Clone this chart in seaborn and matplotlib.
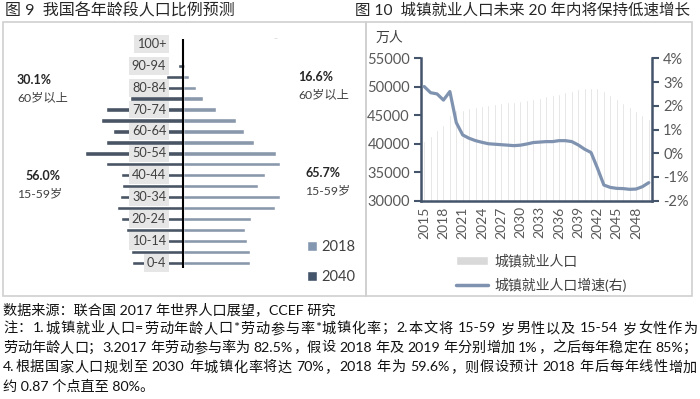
import re
import numpy as np
import pandas as pd
import matplotlib.pyplot as plt
import seaborn as sns
from matplotlib.patches import Patch, Rectangle, PathPatch
from matplotlib.path import Path
from matplotlib.lines import Line2D
from matplotlib.ticker import FuncFormatter

## data ##

ages = ['0-4', '5-9', '10-14', '15-19', '20-24', '25-29', '30-34', '35-39',
        '40-44', '45-49', '50-54', '55-59', '60-64', '65-69', '70-74',
        '75-79', '80-84', '85-89', '90-94', '95-99', '100+']
share_2018 = [6.0, 6.0, 5.7, 5.5, 6.1, 8.2, 8.6, 6.7, 7.3, 8.6, 8.3,
              6.3, 5.4, 4.7, 2.9, 1.8, 1.2, 0.5, 0.2, 0.05, 0.0]
share_2040 = [4.5, 4.6, 4.7, 5.1, 5.5, 5.9, 5.6, 5.4, 5.5, 6.9, 8.7,
              6.9, 6.2, 7.3, 6.9, 4.7, 2.9, 1.5, 0.45, 0.1, 0.0]

years = list(range(2015, 2051))
urban_emp = [40400, 41400, 42400, 43300, 45100, 45900, 46000, 46300, 46500,
             46700, 46850, 47000, 47150, 47300, 47400, 47500, 47700, 47900,
             48100, 48300, 48500, 48800, 49000, 49300, 49600, 49800, 49850,
             49700, 49200, 48500, 47800, 47100, 46400, 45700, 45000, 44400]
urban_growth = [2.81, 2.55, 2.50, 2.24, 2.60, 1.29, 0.77, 0.63, 0.53, 0.46,
                0.40, 0.38, 0.36, 0.34, 0.32, 0.34, 0.39, 0.45, 0.47, 0.49,
                0.49, 0.53, 0.53, 0.49, 0.35, 0.17, 0.03, -0.63, -1.34, -1.44,
                -1.48, -1.49, -1.52, -1.51, -1.41, -1.24]

notes = [
    '数据来源：联合国 2017 年世界人口展望，CCEF 研究',
    '注：1.城镇就业人口=劳动年龄人口*劳动参与率*城镇化率；2.本文将 15-59 岁男性以及 15-54 岁女性作为',
    '劳动年龄人口；3.2017 年劳动参与率为 82.5%，假设 2018 年及 2019 年分别增加 1%，之后每年稳定在 85%；',
    '4.根据国家人口规划至 2030 年城镇化率将达 70%，2018 年为 59.6%，则假设预计 2018 年后每年线性增加',
    '约 0.87 个点直至 80%。',
]
justified = [False, True, True, True, False]

c2018 = '#8497b0'
c2040 = '#44546a'
bar_grey = '#d9d9d9'
line_c = '#7f93b0'
spine_c = '#44546a'
txt_c = '#595959'
brk_c = '#a6a6a6'

sns.set_style('white')
plt.rcParams['font.family'] = ['Lato', 'Noto Sans CJK SC', 'DejaVu Sans']

W, H = 700, 399
fig = plt.figure(figsize=(7, 3.99), dpi=100)


def box(x0, y0, x1, y1):
    # pixel box -> figure fraction
    return [x0 / W, 1 - y1 / H, (x1 - x0) / W, (y1 - y0) / H]


# overlay for frames, titles, brackets and notes (pixel coords)
ov = fig.add_axes([0, 0, 1, 1], zorder=-1)
ov.set_xlim(0, W)
ov.set_ylim(H, 0)
ov.axis('off')

ov.add_patch(Rectangle((3, 22), 363, 274, fill=False, ec='#d0d0d0', lw=1.2))
ov.add_patch(Rectangle((366, 22), 326, 274, fill=False, ec='#d0d0d0', lw=1.2))

ov.text(5, 11, '图 9  我国各年龄段人口比例预测', fontsize=11.5, va='center', color='#262626')
ov.text(355, 11, '图 10  城镇就业人口未来 20 年内将保持低速增长', fontsize=11.2, va='center', color='#262626')


def bracket(x, y0, y1, ym, s):
    # s=+1: serifs right / notch left, s=-1 mirrored
    verts = [(x + 8 * s, y0), (x, y0), (x, y0 + 6), (x, ym - 4), (x, ym), (x - 6 * s, ym),
             (x, ym), (x, ym + 4), (x, y1 - 6), (x, y1), (x + 8 * s, y1)]
    codes = [Path.MOVETO, Path.CURVE3, Path.CURVE3, Path.LINETO, Path.CURVE3, Path.CURVE3,
             Path.CURVE3, Path.CURVE3, Path.LINETO, Path.CURVE3, Path.CURVE3]
    ov.add_patch(PathPatch(Path(verts, codes), fill=False, ec=brk_c, lw=2, capstyle='round'))


bracket(81, 43, 127, 85, 1)
bracket(81, 141, 230, 184, 1)
bracket(283, 40, 128, 85, -1)
bracket(283, 141, 229, 183, -1)

ov.text(17, 80, '30.1%', fontsize=9, fontweight='bold', va='center', color='#262626')
ov.text(17, 98, '60岁以上', fontsize=8.8, va='center', color='#404040')
ov.text(25, 176, '56.0%', fontsize=9, fontweight='bold', va='center', color='#262626')
ov.text(17, 194, '15-59岁', fontsize=8.8, va='center', color='#404040')
ov.text(298, 77, '16.6%', fontsize=9, fontweight='bold', va='center', color='#262626')
ov.text(298, 95, '60岁以上', fontsize=8.8, va='center', color='#404040')
ov.text(305, 173, '65.7%', fontsize=9, fontweight='bold', va='center', color='#262626')
ov.text(305, 191, '15-59岁', fontsize=8.8, va='center', color='#404040')


# notes: first/last line plain, the middle ones stretched to the full width
def note_line(line, y, fs, stretch, x0=3, x1=697):
    if not stretch:
        ov.text(x0, y, line, fontsize=fs, va='center', color='#111111')
        return
    r = fig.canvas.get_renderer()
    em = fs * 100 / 72
    items = []
    for tok in re.findall(r'[\x21-\x7e]+| +|[^\x00-\x7f]', line):
        if tok.isspace():
            items.append((None, 0.25 * em))
        elif ord(tok[0]) > 127:
            items.append((ov.text(0, y, tok, fontsize=fs, va='center', color='#111111'), em))
        else:
            t = ov.text(0, y, tok, fontsize=fs, va='center', color='#111111')
            items.append((t, t.get_window_extent(r).width))
    total = sum(w for _, w in items)
    gap = (x1 - x0 - total) / (len(items) - 1)
    x = x0
    for t, w in items:
        if t is not None:
            t.set_x(x)
        x += w + gap


for i, line in enumerate(notes):
    note_line(line, 309 + i * 19.3, 10.2, justified[i])

## left: population pyramid ##
ax1 = fig.add_axes(box(73, 38.5, 293, 268.2))
pyr = pd.DataFrame({
    'age': ages * 2,
    'year': ['2018'] * len(ages) + ['2040'] * len(ages),
    'share': share_2018 + [-v for v in share_2040],
})
sns.barplot(data=pyr, x='share', y='age', hue='year', order=ages[::-1],
            hue_order=['2018', '2040'], palette=[c2018, c2040], dodge=False,
            width=0.4, orient='h', errorbar=None, legend=False, ax=ax1)
ax1.set_xlim(-9.8, 9.8)
ax1.axvline(0, color='black', lw=1.5, zorder=6)
for i, a in enumerate(ages[::-1]):
    if ages.index(a) % 2 == 0:
        ax1.text(-1.5, i, a, ha='right', va='center', fontsize=9.2, color='#404040',
                 bbox=dict(boxstyle='square,pad=0.22', fc='#e6e6e6', ec='none'), zorder=5)
ax1.set_xticks([])
ax1.set_yticks([])
ax1.set_xlabel('')
ax1.set_ylabel('')
sns.despine(ax=ax1, left=True, bottom=True)

fig.legend(handles=[Patch(fc=c2018), Patch(fc=c2040)], labels=['2018', '2040'],
           loc='upper left', bbox_to_anchor=(294 / W, 1 - 227 / H), frameon=False,
           handlelength=0.7, handleheight=0.7, handletextpad=0.3, labelspacing=1.1,
           fontsize=10.5, labelcolor='#404040')

## right: urban employment ##
ax2 = fig.add_axes(box(421, 58.3, 652, 200.7))
sns.barplot(x=years, y=urban_emp, native_scale=True, width=0.3, color=bar_grey,
            errorbar=None, ax=ax2)
ax3 = ax2.twinx()
sns.lineplot(x=years, y=urban_growth, color=line_c, lw=2.3, ax=ax3)

ax2.set_xlim(2014.5, 2050.5)
ax2.set_ylim(30000, 55000)
ax3.set_ylim(-2, 4)
ax2.set_yticks(range(30000, 55001, 5000))
ax3.set_yticks(range(-2, 5))
ax3.yaxis.set_major_formatter(FuncFormatter(lambda v, p: f'{v:.0f}%'))
ax2.set_xticks(years[::3])
ax2.set_xticklabels([str(y) for y in years[::3]], rotation=90)
ax2.set_xticks(np.arange(2014.5, 2051, 1), minor=True)

for a in (ax2, ax3):
    for sp in a.spines.values():
        sp.set_visible(False)
    a.set_xlabel('')
    a.set_ylabel('')
ax2.spines['left'].set_visible(True)
ax2.spines['bottom'].set_visible(True)
ax3.spines['right'].set_visible(True)
for sp in (ax2.spines['left'], ax2.spines['bottom'], ax3.spines['right']):
    sp.set_color(spine_c)
    sp.set_linewidth(1.8)

ax2.tick_params(axis='x', which='major', length=0, pad=4, labelsize=10, labelcolor=txt_c)
ax2.tick_params(axis='x', which='minor', length=4, width=1.5, color=spine_c, direction='out')
ax2.tick_params(axis='y', left=True, length=5, width=1.5, color=spine_c, direction='out',
                labelsize=10.5, labelcolor=txt_c, pad=3)
ax3.tick_params(axis='y', right=True, length=5, width=1.5, color=spine_c, direction='out',
                labelsize=10.5, labelcolor=txt_c, pad=3)

ov.text(389, 37, '万人', fontsize=10, ha='center', va='center', color='#404040')

fig.legend(handles=[Patch(fc=bar_grey), Line2D([], [], color=line_c, lw=2.5)],
           labels=['城镇就业人口', '城镇就业人口增速(右)'],
           loc='upper left', bbox_to_anchor=(444 / W, 1 - 241 / H), frameon=False,
           handlelength=2.3, handleheight=0.6, handletextpad=0.4, labelspacing=0.75,
           fontsize=10, labelcolor='#404040')

fig.savefig('out.png', dpi=100)
